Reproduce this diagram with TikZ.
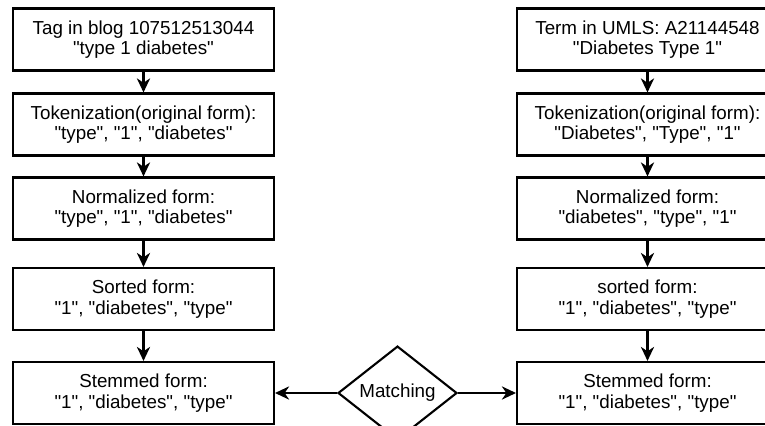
\documentclass[tikz,border=0pt]{standalone}
\usepackage{fontspec}
\setmainfont{Liberation Sans}[Ligatures=TeXOff]
\usetikzlibrary{shapes.geometric, arrows.meta}

\begin{document}
\begin{tikzpicture}[x=0.02cm, y=-0.02cm,
    box/.style={draw, line width=1.2pt, minimum width=5.22cm, minimum height=1.24cm,
        align=center, font=\fontsize{10.7}{11.6}\selectfont},
    arr/.style={-{Stealth[length=8pt, width=7.5pt, inset=2.5pt]}, line width=1.2pt}]
    \clip (0,0) rectangle (765,426);

    % left column: blog tag
    \node[box] (tag) at (143.5,39.5) {Tag in blog 107512513044\\"type 1 diabetes"};
    \node[box] (tagtok) at (143.5,124.5) {Tokenization(original form):\\"type", "1", "diabetes"};
    \node[box] (tagnorm) at (143.5,208.5) {Normalized form:\\"type", "1", "diabetes"};
    \node[box] (tagsort) at (143.5,299) {Sorted form:\\"1", "diabetes", "type"};
    \node[box] (tagstem) at (143.5,393) {Stemmed form:\\"1", "diabetes", "type"};

    % right column: UMLS term
    \node[box] (term) at (647.5,39.5) {Term in UMLS: A21144548\\"Diabetes Type 1"};
    \node[box] (termtok) at (647.5,124.5) {Tokenization(original form):\\"Diabetes", "Type", "1"};
    \node[box] (termnorm) at (647.5,208.5) {Normalized form:\\"diabetes", "type", "1"};
    \node[box] (termsort) at (647.5,299) {sorted form:\\"1", "diabetes", "type"};
    \node[box] (termstem) at (647.5,393) {Stemmed form:\\"1", "diabetes", "type"};

    \node[draw, diamond, line width=1.2pt, inner sep=0pt, minimum width=2.38cm,
        minimum height=1.52cm, font=\fontsize{10.7}{11.6}\selectfont] (match) at (397.5,393) {Matching};

    \draw[arr] (tag) -- (tagtok);
    \draw[arr] (tagtok) -- (tagnorm);
    \draw[arr] (tagnorm) -- (tagsort);
    \draw[arr] (tagsort) -- (tagstem);
    \draw[arr] (term) -- (termtok);
    \draw[arr] (termtok) -- (termnorm);
    \draw[arr] (termnorm) -- (termsort);
    \draw[arr] (termsort) -- (termstem);
    \draw[arr] (match.west) -- (tagstem.east);
    \draw[arr] (match.east) -- (termstem.west);
\end{tikzpicture}
\end{document}
